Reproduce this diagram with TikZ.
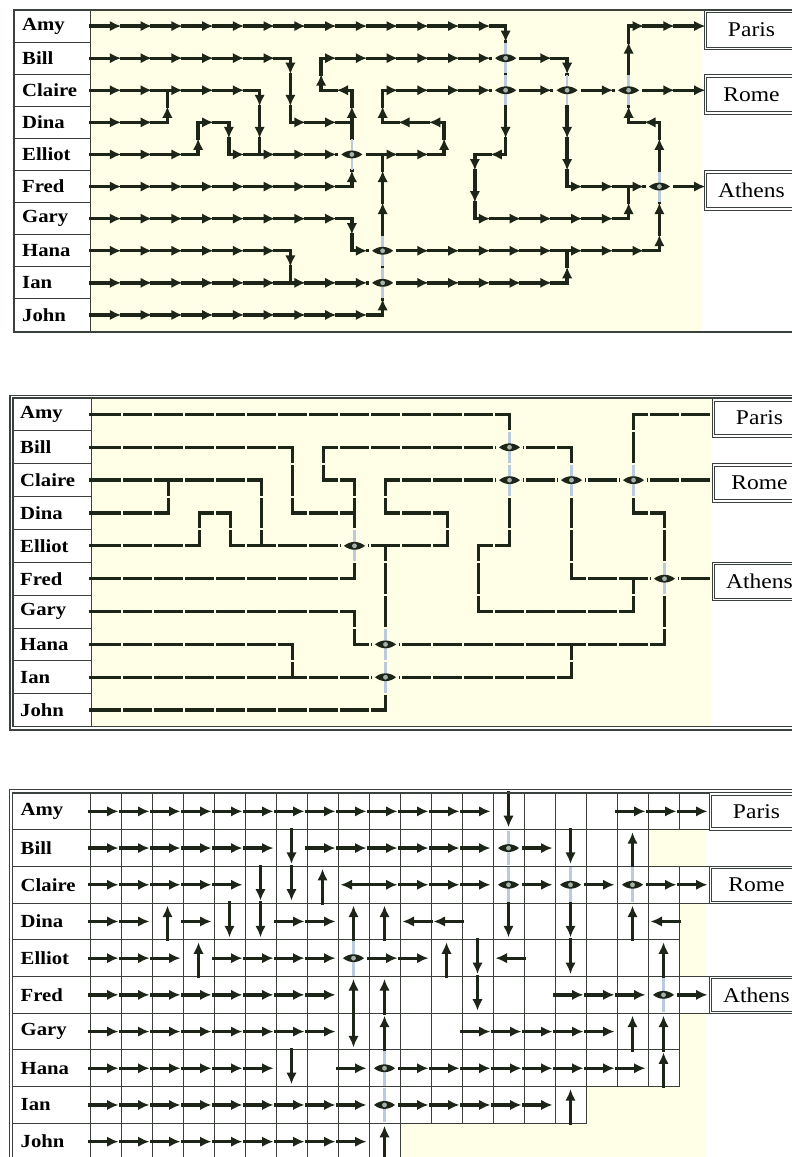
\documentclass[tikz,border=0pt]{standalone}
\usepackage{fontspec}
\setmainfont{Liberation Serif}
\usepackage{graphicx}
\usetikzlibrary{arrows.meta}
\definecolor{Ink}{HTML}{1C2518}
\definecolor{Edge}{HTML}{3B423D}
\definecolor{Rule}{HTML}{3A3F3A}
\definecolor{Cream}{HTML}{FFFEE6}
\definecolor{Bridge}{HTML}{B9CBDC}
\definecolor{Hub}{HTML}{A7B1AC}
\pgfdeclarelayer{back}
\pgfdeclarelayer{front}
\pgfsetlayers{back,main,front}
\tikzset{
  flow/.style={draw=Ink, line width=3.3pt, line cap=rect},
  arrowed/.style={-{Latex[length=11.5pt,width=10.5pt]}},
  bare/.style={},
  bridge/.style={draw=Bridge, line width=2.5pt},
  cell/.style={draw=Rule, line width=0.9pt},
  frame/.style={draw=Edge, line width=1.1pt},
  who/.style={anchor=west, inner sep=0pt, font=\bfseries\fontsize{18.5}{20}\selectfont},
  dest/.style={draw=Edge, double=white, double distance=1.3pt, line width=1pt,
               fill=white, anchor=west, minimum width=92pt, minimum height=36pt,
               inner sep=0pt, font=\fontsize{21}{23}\selectfont},
}
\newcommand{\people}{Amy,Bill,Claire,Dina,Elliot,Fred,Gary,Hana,Ian,John}
\newcommand{\routes}{%
  {R,R,R,R,R,R,R,R,R,R,R,R,R,D,O,O,O,R,R,R},% Amy
  {R,R,R,R,R,R,D,R,R,R,R,R,R,Y,R,D,O,U,N,N},% Bill
  {R,R,R,R,R,D,D,U,L,R,R,R,R,Y,R,Y,R,X,R,R},% Claire
  {R,R,U,R,D,D,R,R,U,U,L,L,O,D,O,D,O,U,L,N},% Dina
  {R,R,R,U,R,R,R,R,X,R,R,U,D,L,O,D,O,O,U,N},% Elliot
  {R,R,R,R,R,R,R,R,U,U,O,O,D,O,O,R,R,R,X,R},% Fred
  {R,R,R,R,R,R,R,R,D,U,O,O,R,R,R,R,R,U,U,N},% Gary
  {R,R,R,R,R,R,D,O,R,X,R,R,R,R,R,R,R,R,U,N},% Hana
  {R,R,R,R,R,R,R,R,R,X,R,R,R,R,R,U,N,N,N,N},% Ian
  {R,R,R,R,R,R,R,R,R,U,N,N,N,N,N,N,N,N,N,N}}% John
\newcommand{\flowstep}[3]{%
  \draw[flow,#3] (o) -- ++({#1*\px/2},{#2*\py/2});
  \draw[flow] (o) ++({#1*\px/2},{#2*\py/2}) -- ++({#1*\px/2},{#2*\py/2});}
\newcommand{\lanestep}[3]{%
  \draw[flow] (o) -- ++({#1*(\px/2-\lanegap)},{#2*(\py/2-\lanegap)});
  \draw[flow] (o) ++({#1*(\px/2+\lanegap)},{#2*(\py/2+\lanegap)}) -- ++({#1*(\px/2-\lanegap)},{#2*(\py/2-\lanegap)});}
\newcommand{\gridstep}[3]{%
  \draw[flow,#3] (o) ++({-(#1)*\px/2},{-(#2)*\py/2}) -- ++({#1*(\px-2.5)},{#2*(\py-2.5)});}
\newcommand{\crossing}{%
  \begin{pgfonlayer}{front}
    \begin{scope}[shift={(o)}]
      \fill[fill=\maskcol] ({-\px/2+1.7},{-\py/2+1.7}) rectangle ({\px/2-1.7},{\py/2-1.7});
      \draw[bridge] (0,{-\py/2+1}) -- (0,{\py/2-1});
      \fill[Ink] (-10.5,0) .. controls (-4,-5.2) and (4,-5.2) .. (10.5,0)
                 .. controls (4,5.2) and (-4,5.2) .. (-10.5,0) -- cycle;
      \fill[Hub] (0,0) circle (2.4);
    \end{scope}
  \end{pgfonlayer}}
\newcommand{\typeR}{\cellstep{1}{0}{arrowed}}
\newcommand{\typeL}{\cellstep{-1}{0}{arrowed}}
\newcommand{\typeU}{\cellstep{0}{-1}{arrowed}}
\newcommand{\typeD}{\cellstep{0}{1}{arrowed}}
\newcommand{\typeX}{\cellstep{1}{0}{bare}\cellstep{0}{-1}{bare}\crossing}
\newcommand{\typeY}{\cellstep{1}{0}{bare}\cellstep{0}{1}{bare}\crossing}
\newcommand{\typeO}{}
\newcommand{\typeN}{}

\begin{document}
\begin{tikzpicture}[x=1pt, y=-1pt]
  \useasboundingbox (0,0) rectangle (792,1157);
  \begin{pgfonlayer}{back}
    \fill[white] (0,0) rectangle (792,1157);
  \end{pgfonlayer}

  % arrows
  \begin{scope}
    \def\xo{90.5}\def\px{30.75}\def\yo{10}\def\py{32.1}\def\maskcol{Cream}
    \let\cellstep\flowstep
    \begin{pgfonlayer}{back}
      \fill[Cream] (90.5,10) rectangle (702,332);
    \end{pgfonlayer}
    \foreach \who [count=\ri from 0] in \people {
      \draw[cell, fill=white] (13.5,{\yo+\ri*\py}) rectangle (90.5,{\yo+(\ri+1)*\py});
      \node[who] (top-\ri) at (22,{\yo+(\ri+.5)*\py}) {\scalebox{1.12}[1]{\who}};
      \draw[flow] (\xo,{\yo+(\ri+.5)*\py}) -- ++(\px/2,0);
    }
    \foreach \rowcells [count=\ri from 0] in \routes {
      \foreach \kind [count=\ci from 0] in \rowcells {
        \coordinate (o) at ({\xo+(\ci+.5)*\px},{\yo+(\ri+.5)*\py});
        \csname type\kind\endcsname
      }
    }
    \draw[frame, line width=2pt] (13.5,10) rectangle (830,332);
    \node[dest, minimum height=37pt] (top-paris) at (705,30) {\scalebox{1.12}[1]{Paris}};
    \node[dest, minimum height=37pt] (top-rome) at (705,94.5) {\scalebox{1.12}[1]{Rome}};
    \node[dest, minimum height=37pt] (top-athens) at (705,190.5) {\scalebox{1.12}[1]{Athens}};
  \end{scope}

  % lanes
  \begin{scope}
    \def\xo{91}\def\px{31}\def\yo{398}\def\py{32.85}\def\maskcol{Cream}\def\lanegap{2.7}
    \let\cellstep\lanestep
    \begin{pgfonlayer}{back}
      \fill[Cream] (91,398) rectangle (711,726.5);
    \end{pgfonlayer}
    \foreach \who [count=\ri from 0] in \people {
      \draw[cell, fill=white] (13,{\yo+\ri*\py}) rectangle (91,{\yo+(\ri+1)*\py});
      \node[who] (mid-\ri) at (20,{\yo+(\ri+.5)*\py}) {\scalebox{1.12}[1]{\who}};
      \draw[flow] (\xo,{\yo+(\ri+.5)*\py}) -- ++(\px/2,0);
    }
    \foreach \rowcells [count=\ri from 0] in \routes {
      \foreach \kind [count=\ci from 0] in \rowcells {
        \coordinate (o) at ({\xo+(\ci+.5)*\px},{\yo+(\ri+.5)*\py});
        \csname type\kind\endcsname
      }
    }
    \draw[frame] (10,395.5) rectangle (830,730);
    \draw[frame] (13,398) rectangle (827,726.5);
    \node[dest] (mid-paris) at (713,418) {\scalebox{1.12}[1]{Paris}};
    \node[dest] (mid-rome) at (713,483) {\scalebox{1.12}[1]{Rome}};
    \node[dest] (mid-athens) at (713,581.5) {\scalebox{1.12}[1]{Athens}};
  \end{scope}

  % grid
  \begin{scope}[bare/.style={draw=none}]
    \def\xo{90}\def\px{31}\def\yo{793}\def\py{36.7}\def\maskcol{white}
    \let\cellstep\gridstep
    \begin{pgfonlayer}{back}
      \fill[Cream] (90,793) rectangle (705,1160);
    \end{pgfonlayer}
    \foreach \who [count=\ri from 0] in \people {
      \draw[cell, fill=white] (12.5,{\yo+\ri*\py}) rectangle (90,{\yo+(\ri+1)*\py});
      \node[who] (low-\ri) at (20.5,{\yo+(\ri+.5)*\py}) {\scalebox{1.12}[1]{\who}};
    }
    \foreach \rowcells [count=\ri from 0] in \routes {
      \foreach \kind [count=\ci from 0] in \rowcells {
        \coordinate (o) at ({\xo+(\ci+.5)*\px},{\yo+(\ri+.5)*\py});
        \if N\kind\else
          \begin{pgfonlayer}{back}
            \draw[cell, fill=white] (o) +({-\px/2},{-\py/2}) rectangle +({\px/2},{\py/2});
          \end{pgfonlayer}
        \fi
        \csname type\kind\endcsname
      }
    }
    \draw[frame] (9.5,789.5) rectangle (830,1170);
    \draw[frame] (12.5,793) rectangle (827,1167);
    \node[dest, minimum height=35pt] (low-paris) at (710,811.35) {\scalebox{1.12}[1]{Paris}};
    \node[dest, minimum height=35pt] (low-rome) at (710,884.75) {\scalebox{1.12}[1]{Rome}};
    \node[dest, minimum height=35pt] (low-athens) at (710,994.85) {\scalebox{1.12}[1]{Athens}};
  \end{scope}
\end{tikzpicture}
\end{document}
